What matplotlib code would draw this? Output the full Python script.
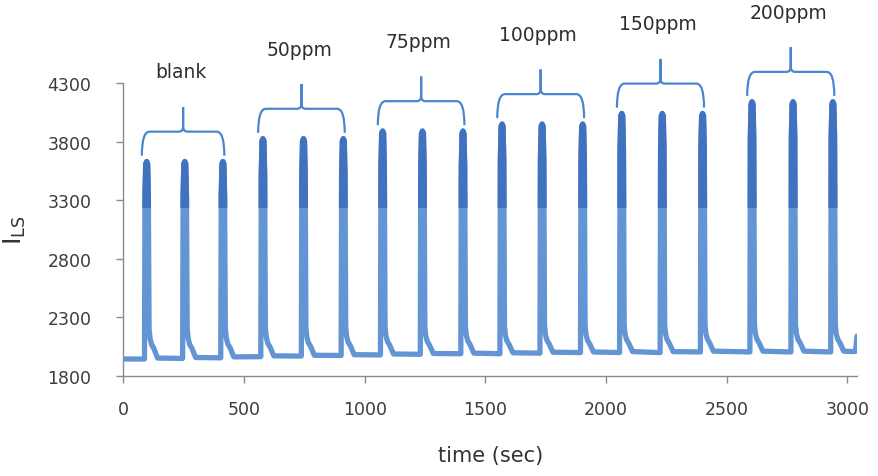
import matplotlib
matplotlib.use("Agg")
import matplotlib.pyplot as plt
from matplotlib.path import Path
from matplotlib.patches import PathPatch, Rectangle

# ---------------- data ----------------
time_sec = [
    0,
    87, 89, 92, 96, 100, 103, 106, 110, 116, 126, 141,
    245, 247, 250, 254, 258, 261, 264, 268, 274, 284, 299,
    403, 405, 408, 412, 416, 419, 422, 426, 432, 442, 457,
    569, 571, 574, 578, 582, 585, 588, 592, 598, 608, 623,
    737, 739, 742, 746, 750, 753, 756, 760, 766, 776, 791,
    902, 904, 907, 911, 915, 918, 921, 925, 931, 941, 956,
    1065, 1067, 1070, 1074, 1078, 1081, 1084, 1088, 1094, 1104, 1119,
    1230, 1232, 1235, 1239, 1243, 1246, 1249, 1253, 1259, 1269, 1284,
    1398, 1400, 1403, 1407, 1411, 1414, 1417, 1421, 1427, 1437, 1452,
    1560, 1562, 1565, 1569, 1573, 1576, 1579, 1583, 1589, 1599, 1614,
    1726, 1728, 1731, 1735, 1739, 1742, 1745, 1749, 1755, 1765, 1780,
    1894, 1896, 1899, 1903, 1907, 1910, 1913, 1917, 1923, 1933, 1948,
    2056, 2058, 2061, 2065, 2069, 2072, 2075, 2079, 2085, 2095, 2110,
    2224, 2226, 2229, 2233, 2237, 2240, 2243, 2247, 2253, 2263, 2278,
    2391, 2393, 2396, 2400, 2404, 2407, 2410, 2414, 2420, 2430, 2445,
    2596, 2598, 2601, 2605, 2609, 2612, 2615, 2619, 2625, 2635, 2650,
    2766, 2768, 2771, 2775, 2779, 2782, 2785, 2789, 2795, 2805, 2820,
    2931, 2933, 2936, 2940, 2944, 2947, 2950, 2954, 2960, 2970, 2985,
    3028, 3034, 3040,
]
intensity = [
    1945,
    1945, 3330, 3610, 3630, 3610, 3330, 2200, 2120, 2070, 2035, 1953,
    1950, 3330, 3610, 3630, 3610, 3330, 2200, 2120, 2070, 2035, 1958,
    1955, 3330, 3610, 3630, 3610, 3330, 2205, 2125, 2075, 2040, 1963,
    1965, 3525, 3805, 3825, 3805, 3525, 2210, 2130, 2080, 2045, 1972,
    1970, 3525, 3805, 3825, 3805, 3525, 2210, 2130, 2085, 2050, 1977,
    1975, 3525, 3805, 3825, 3805, 3525, 2215, 2135, 2090, 2055, 1982,
    1980, 3590, 3870, 3890, 3870, 3590, 2220, 2140, 2095, 2060, 1988,
    1985, 3590, 3870, 3890, 3870, 3590, 2220, 2140, 2095, 2060, 1992,
    1990, 3590, 3870, 3890, 3870, 3590, 2225, 2145, 2100, 2065, 1995,
    1990, 3650, 3930, 3950, 3930, 3650, 2225, 2145, 2100, 2065, 1998,
    1995, 3650, 3930, 3950, 3930, 3650, 2230, 2150, 2105, 2070, 2003,
    2000, 3650, 3930, 3950, 3930, 3650, 2230, 2150, 2105, 2070, 2005,
    2000, 3740, 4020, 4040, 4020, 3740, 2235, 2155, 2110, 2075, 2008,
    2000, 3740, 4020, 4040, 4020, 3740, 2235, 2155, 2110, 2075, 2008,
    2005, 3740, 4020, 4040, 4020, 3740, 2240, 2160, 2115, 2080, 2012,
    2005, 3840, 4120, 4140, 4120, 3840, 2240, 2160, 2115, 2080, 2012,
    2005, 3840, 4120, 4140, 4120, 3840, 2240, 2160, 2115, 2080, 2012,
    2005, 3840, 4120, 4140, 4120, 3840, 2240, 2160, 2115, 2080, 2012,
    2008, 2012, 2140,
]
group_labels = ["blank", "50ppm", "75ppm", "100ppm", "150ppm", "200ppm"]
group_first_peak = [96, 578, 1074, 1569, 2065, 2605]
group_last_peak = [412, 911, 1407, 1903, 2400, 2940]
group_peak_level = [3630, 3825, 3890, 3950, 4040, 4140]

x_ticks = [0, 500, 1000, 1500, 2000, 2500, 3000]
y_ticks = [1800, 2300, 2800, 3300, 3800, 4300]

# ---------------- figure ----------------
W, H = 879, 477
fig = plt.figure(figsize=(W / 100, H / 100), dpi=100)
ax = fig.add_axes([123.5 / W, (H - 377) / H, (857 - 123.5) / W, (377 - 84) / H])

light = "#6394d4"
dark = "#4172bf"
ln, = ax.plot(time_sec, intensity, color=light, lw=3.8,
              solid_joinstyle="round", solid_capstyle="round", zorder=3)
ln2, = ax.plot(time_sec, intensity, color=dark, lw=3.8,
               solid_joinstyle="round", solid_capstyle="round", zorder=4)
clip = Rectangle((-100, 3230), 3300, 2000, transform=ax.transData)
ln2.set_clip_path(clip)

ax.set_xlim(0, 3040)
ax.set_ylim(1800, 4300)
ax.set_xticks(x_ticks)
ax.set_yticks(y_ticks)

axis_col = "#8a8a8a"
for s in ["top", "right"]:
    ax.spines[s].set_visible(False)
for s in ["left", "bottom"]:
    ax.spines[s].set_color(axis_col)
    ax.spines[s].set_linewidth(1.0)
ax.tick_params(axis="both", direction="out", length=5, width=1.0,
               color=axis_col, labelcolor="#3c3c3c", labelsize=12.5)
ax.tick_params(axis="y", pad=18)
ax.tick_params(axis="x", pad=12)

ax.set_xlabel("time (sec)", fontsize=15, color="#333333", labelpad=20)
ax.set_ylabel(r"$\mathregular{I_{LS}}$", fontsize=18, color="#333333", labelpad=14)

# ---------------- braces and labels ----------------
bcol = "#4a86d0"
for lab, f, l, p in zip(group_labels, group_first_peak, group_last_peak, group_peak_level):
    L = f - 20
    R = l + 6
    M = (L + R) / 2
    ye = p + 50
    yb = p + 255
    ys = p + 465
    dxe, dxm, rm = 32, 18, 45
    verts = [(M, ys), (M, yb + rm), (M, yb), (M - dxm, yb), (L + dxe, yb), (L, yb), (L, ye),
             (M, ys), (M, yb + rm), (M, yb), (M + dxm, yb), (R - dxe, yb), (R, yb), (R, ye)]
    codes = [Path.MOVETO, Path.LINETO, Path.CURVE3, Path.CURVE3, Path.LINETO, Path.CURVE3, Path.CURVE3] * 2
    patch = PathPatch(Path(verts, codes), fill=False, edgecolor=bcol, lw=1.6,
                      clip_on=False, zorder=5)
    ax.add_patch(patch)
    ax.text(M - 10, ys + 300, lab, ha="center", va="center", fontsize=13.5,
            color="#2e2e2e", clip_on=False)

fig.savefig("out.png", dpi=100)
